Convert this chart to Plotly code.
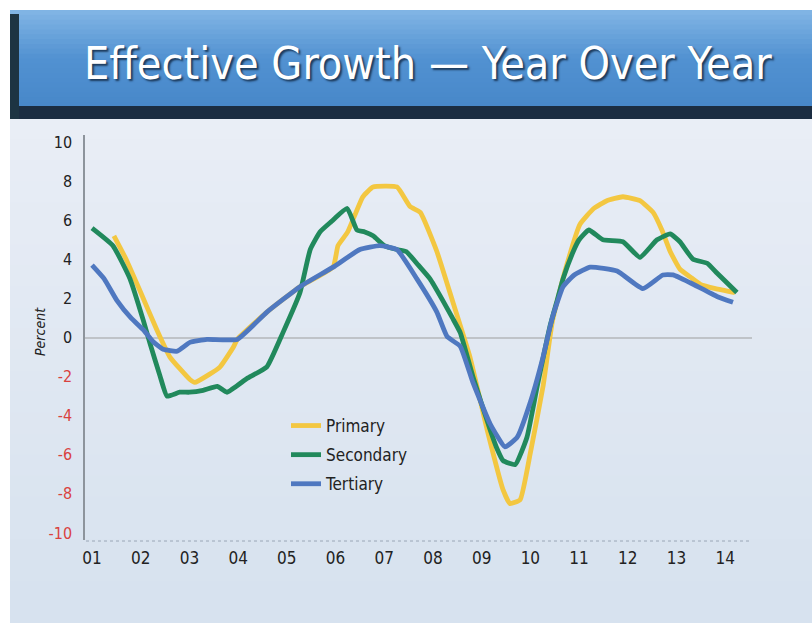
import plotly.graph_objects as go

# ---------------- data ----------------
year_ticks = list(range(1, 15))
year_labels = ["01", "02", "03", "04", "05", "06", "07", "08", "09", "10", "11", "12", "13", "14"]
y_ticks = [10, 8, 6, 4, 2, 0, -2, -4, -6, -8, -10]

primary_x = [1.45, 1.7, 2.0, 2.33, 2.6, 3.01, 3.11, 3.4, 3.63, 3.9, 3.98, 4.59, 5.27, 5.95, 6.05, 6.25,
             6.56, 6.77, 7.26, 7.53, 7.74, 8.08, 8.41, 8.76, 9.11, 9.44, 9.58, 9.79, 10.0, 10.26,
             10.45, 10.7, 11.02, 11.3, 11.57, 11.9, 12.25, 12.52, 12.7, 12.87, 13.07, 13.28, 13.5,
             13.8, 14.2]
primary_y = [5.2, 4.0, 2.3, 0.4, -1.0, -2.15, -2.3, -1.9, -1.5, -0.5, -0.1, 1.3, 2.6, 3.6, 4.7, 5.4,
             7.2, 7.7, 7.7, 6.7, 6.4, 4.4, 1.8, -1.0, -4.7, -7.8, -8.5, -8.3, -5.9, -2.5,
             0.8, 3.3, 5.8, 6.6, 7.0, 7.2, 7.0, 6.4, 5.5, 4.4, 3.5, 3.1, 2.7,
             2.5, 2.3]

secondary_x = [1.0, 1.43, 1.78, 2.05, 2.19, 2.4, 2.54, 2.8, 3.0, 3.28, 3.57, 3.77, 4.18, 4.59, 4.92,
               5.27, 5.48, 5.68, 5.9, 6.24, 6.44, 6.6, 6.77, 7.0, 7.26, 7.45, 7.7, 7.94, 8.2, 8.4,
               8.56, 8.82, 9.0, 9.17, 9.3, 9.44, 9.69, 9.93, 10.14, 10.4, 10.55, 10.67, 10.88,
               11.0, 11.2, 11.49, 11.9, 12.25, 12.6, 12.87, 13.07, 13.34, 13.63, 13.83, 14.24]
secondary_y = [5.6, 4.7, 3.0, 0.9, -0.3, -2.0, -3.0, -2.8, -2.8, -2.7, -2.5, -2.8, -2.1, -1.5, 0.25,
               2.3, 4.5, 5.4, 5.9, 6.6, 5.5, 5.4, 5.2, 4.7, 4.5, 4.4, 3.7, 3.0, 1.9, 1.0,
               0.25, -2.0, -3.4, -4.7, -5.6, -6.3, -6.5, -5.1, -2.5, 0.55, 1.9, 3.0, 4.4,
               5.0, 5.5, 5.0, 4.9, 4.1, 5.0, 5.3, 4.9, 4.0, 3.8, 3.3, 2.3]

tertiary_x = [1.0, 1.25, 1.51, 1.8, 2.05, 2.25, 2.46, 2.75, 3.01, 3.36, 3.98, 4.59, 5.27, 5.95,
              6.5, 6.91, 7.26, 7.67, 8.08, 8.29, 8.56, 8.82, 9.17, 9.48, 9.73, 10.0, 10.26,
              10.45, 10.67, 10.9, 11.23, 11.78, 12.31, 12.72, 12.93, 13.28, 13.83, 14.16]
tertiary_y = [3.7, 3.0, 1.9, 1.0, 0.4, -0.2, -0.6, -0.7, -0.25, -0.1, -0.1, 1.3, 2.6, 3.6,
              4.5, 4.7, 4.5, 3.0, 1.3, 0.05, -0.45, -2.3, -4.4, -5.6, -5.1, -3.3, -1.0,
              1.0, 2.6, 3.2, 3.6, 3.4, 2.5, 3.2, 3.2, 2.8, 2.1, 1.8]

series = [
    ("Primary", primary_x, primary_y, "#f3c741"),
    ("Secondary", secondary_x, secondary_y, "#21895c"),
    ("Tertiary", tertiary_x, tertiary_y, "#4f78c0"),
]

# ---------------- layout helpers (pixel -> paper) ----------------
W, H = 812, 623
L, R, T, B = 85, 60, 135, 83
PW, PH = W - L - R, H - T - B


def px(x):
    return (x - L) / PW


def py(y):
    return (H - B - y) / PH


FONT = "DejaVu Sans Condensed, Liberation Sans Narrow, Arial Narrow, Liberation Sans, sans-serif"

fig = go.Figure()
for name, xs, ys, col in series:
    fig.add_trace(go.Scatter(x=xs, y=ys, mode="lines", name=name, legendgroup=name,
                             line=dict(color=col, width=4.8, shape="spline", smoothing=0.4)))

shapes = []
# page panel gradient
top_c = (233, 238, 246)
bot_c = (215, 226, 239)
n = 24
y0p, y1p = 118, 623
for i in range(n):
    t = i / (n - 1)
    c = tuple(int(top_c[k] + (bot_c[k] - top_c[k]) * t) for k in range(3))
    ya = y0p + (y1p - y0p) * i / n
    yb = y0p + (y1p - y0p) * (i + 1) / n + 1
    shapes.append(dict(type="rect", xref="paper", yref="paper", layer="below",
                       x0=px(10), x1=px(W), y0=py(yb), y1=py(ya),
                       line=dict(width=0), fillcolor="rgb(%d,%d,%d)" % c))
# banner gradient
b_top = (128, 180, 228)
b_mid = (82, 146, 210)
b_bot = (72, 136, 202)
nb = 20
for i in range(nb):
    t = i / (nb - 1)
    if t < 0.5:
        c = tuple(int(b_top[k] + (b_mid[k] - b_top[k]) * t * 2) for k in range(3))
    else:
        c = tuple(int(b_mid[k] + (b_bot[k] - b_mid[k]) * (t - 0.5) * 2) for k in range(3))
    ya = 10 + 97 * i / nb
    yb = 10 + 97 * (i + 1) / nb + 1
    shapes.append(dict(type="rect", xref="paper", yref="paper", layer="below",
                       x0=px(10), x1=px(W), y0=py(yb), y1=py(ya),
                       line=dict(width=0), fillcolor="rgb(%d,%d,%d)" % c))
# dark bottom strip of banner
shapes.append(dict(type="rect", xref="paper", yref="paper", layer="below",
                   x0=px(10), x1=px(W), y0=py(119), y1=py(106),
                   line=dict(width=0), fillcolor="#1b2d42"))
# dark left strip of banner
shapes.append(dict(type="rect", xref="paper", yref="paper", layer="below",
                   x0=px(10), x1=px(19), y0=py(119), y1=py(14),
                   line=dict(width=0), fillcolor="#1d3443"))
# dotted baseline
shapes.append(dict(type="line", xref="paper", yref="paper", layer="below",
                   x0=px(86), x1=px(752), y0=py(541), y1=py(541),
                   line=dict(color="#9aa6b6", width=1, dash="dot")))

ytext = []
for v in y_ticks:
    if v < 0:
        ytext.append("<span style='color:#d9423f'>%d</span>" % v)
    else:
        ytext.append("%d" % v)

fig.update_layout(
    width=W, height=H,
    margin=dict(l=L, r=R, t=T, b=B, pad=0),
    paper_bgcolor="#ffffff",
    plot_bgcolor="rgba(0,0,0,0)",
    shapes=shapes,
    showlegend=True,
    legend=dict(x=px(286), y=py(408), xanchor="left", yanchor="top",
                bgcolor="rgba(0,0,0,0)", font=dict(family=FONT, size=17, color="#222222"),
                itemwidth=30, tracegroupgap=4),
    xaxis=dict(range=[0.856, 14.55], tickvals=year_ticks, ticktext=year_labels,
               showgrid=False, zeroline=False, showline=False, ticks="",
               tickfont=dict(family=FONT, size=17, color="#222222"), ticklabelstandoff=6),
    yaxis=dict(range=[-10.36, 10.36], tickvals=y_ticks, ticktext=ytext,
               showgrid=False, zeroline=True, zerolinecolor="#bfc3c8", zerolinewidth=1.5,
               showline=True, linecolor="#8d949c", linewidth=1.5, ticks="",
               tickfont=dict(family=FONT, size=16, color="#222222"), ticklabelstandoff=8),
    annotations=[
        dict(text="Effective Growth — Year Over Year", xref="paper", yref="paper",
             x=px(428), y=py(64), xanchor="center", yanchor="middle", showarrow=False,
             font=dict(family=FONT, size=44.5, color="#ffffff",
                       shadow="2px 2px 2px #1c3a5c")),
        dict(text="<i>Percent</i>", xref="paper", yref="paper", x=px(40), y=py(332),
             xanchor="center", yanchor="middle", showarrow=False, textangle=-90,
             font=dict(family=FONT, size=14, color="#222222")),
    ],
)

fig.write_html("out.html")
